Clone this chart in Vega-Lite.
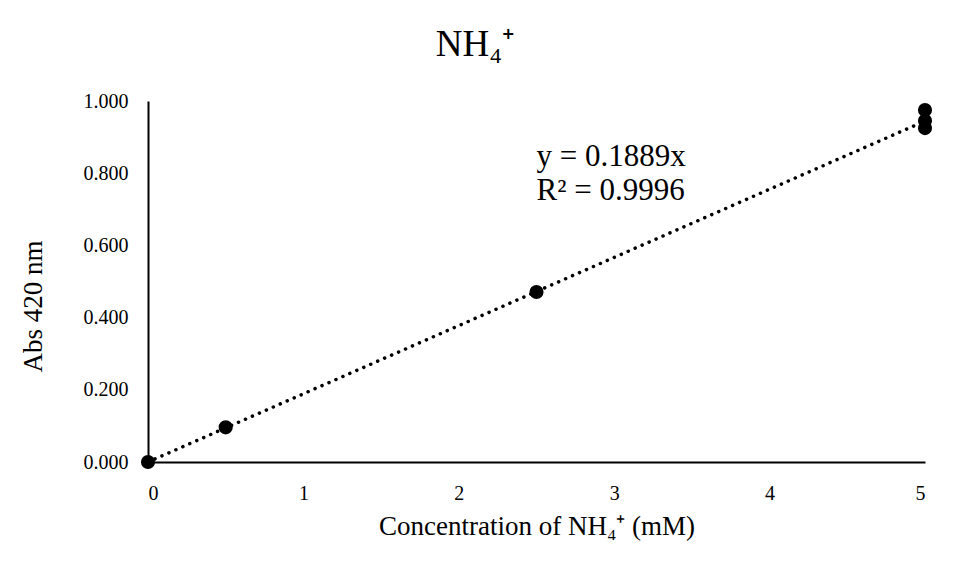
{
  "$schema": "https://vega.github.io/schema/vega-lite/v6.json",
  "width": 777,
  "height": 361,
  "autosize": "none",
  "padding": {"left": 148, "top": 101, "right": 40, "bottom": 112},
  "background": "#ffffff",
  "config": {
    "font": "Liberation Serif",
    "view": {"stroke": null},
    "axis": {
      "grid": false,
      "ticks": false,
      "domainColor": "#000000",
      "domainWidth": 2,
      "labelFont": "Liberation Serif",
      "labelFontSize": 20,
      "labelColor": "#000000",
      "titleFont": "Liberation Serif",
      "titleFontSize": 27,
      "titleFontWeight": "normal",
      "titleColor": "#000000"
    }
  },
  "title": {
    "text": "NH₄⁺",
    "font": "Liberation Serif",
    "fontSize": 37,
    "fontWeight": "normal",
    "color": "#000000",
    "anchor": "middle",
    "frame": "bounds",
    "offset": 27
  },
  "datasets": {
    "standards": [
      {"conc": 0, "abs": 0.0},
      {"conc": 0.5, "abs": 0.096},
      {"conc": 2.5, "abs": 0.471},
      {"conc": 5, "abs": 0.975},
      {"conc": 5, "abs": 0.945},
      {"conc": 5, "abs": 0.925}
    ],
    "fit": [
      {"conc": 0, "abs": 0.0},
      {"conc": 5, "abs": 0.9445}
    ],
    "equation": [
      {"conc": 2.5, "abs": 0.845, "label": "y = 0.1889x"},
      {"conc": 2.5, "abs": 0.75, "label": "R² = 0.9996"}
    ]
  },
  "encoding": {
    "x": {
      "field": "conc",
      "type": "quantitative",
      "scale": {"domain": [0, 5], "nice": false, "zero": true},
      "axis": {
        "title": "Concentration of NH₄⁺ (mM)",
        "values": [0, 1, 2, 3, 4, 5],
        "format": "d",
        "labelPadding": 21,
        "titlePadding": 10
      }
    },
    "y": {
      "field": "abs",
      "type": "quantitative",
      "scale": {"domain": [0, 1], "nice": false},
      "axis": {
        "title": "Abs 420 nm",
        "titleY": 205,
        "values": [0, 0.2, 0.4, 0.6, 0.8, 1.0],
        "format": ".3f",
        "labelPadding": 20,
        "titlePadding": 36
      }
    }
  },
  "layer": [
    {
      "data": {"name": "fit"},
      "mark": {
        "type": "line",
        "color": "#000000",
        "strokeWidth": 3.5,
        "strokeDash": [0.1, 7.5],
        "strokeCap": "round"
      }
    },
    {
      "data": {"name": "standards"},
      "mark": {"type": "point", "shape": "circle", "filled": true, "size": 200, "color": "#000000", "opacity": 1}
    },
    {
      "data": {"name": "equation"},
      "mark": {"type": "text", "align": "left", "baseline": "middle", "fontSize": 31, "color": "#000000", "font": "Liberation Serif"},
      "encoding": {"text": {"field": "label"}}
    }
  ]
}
